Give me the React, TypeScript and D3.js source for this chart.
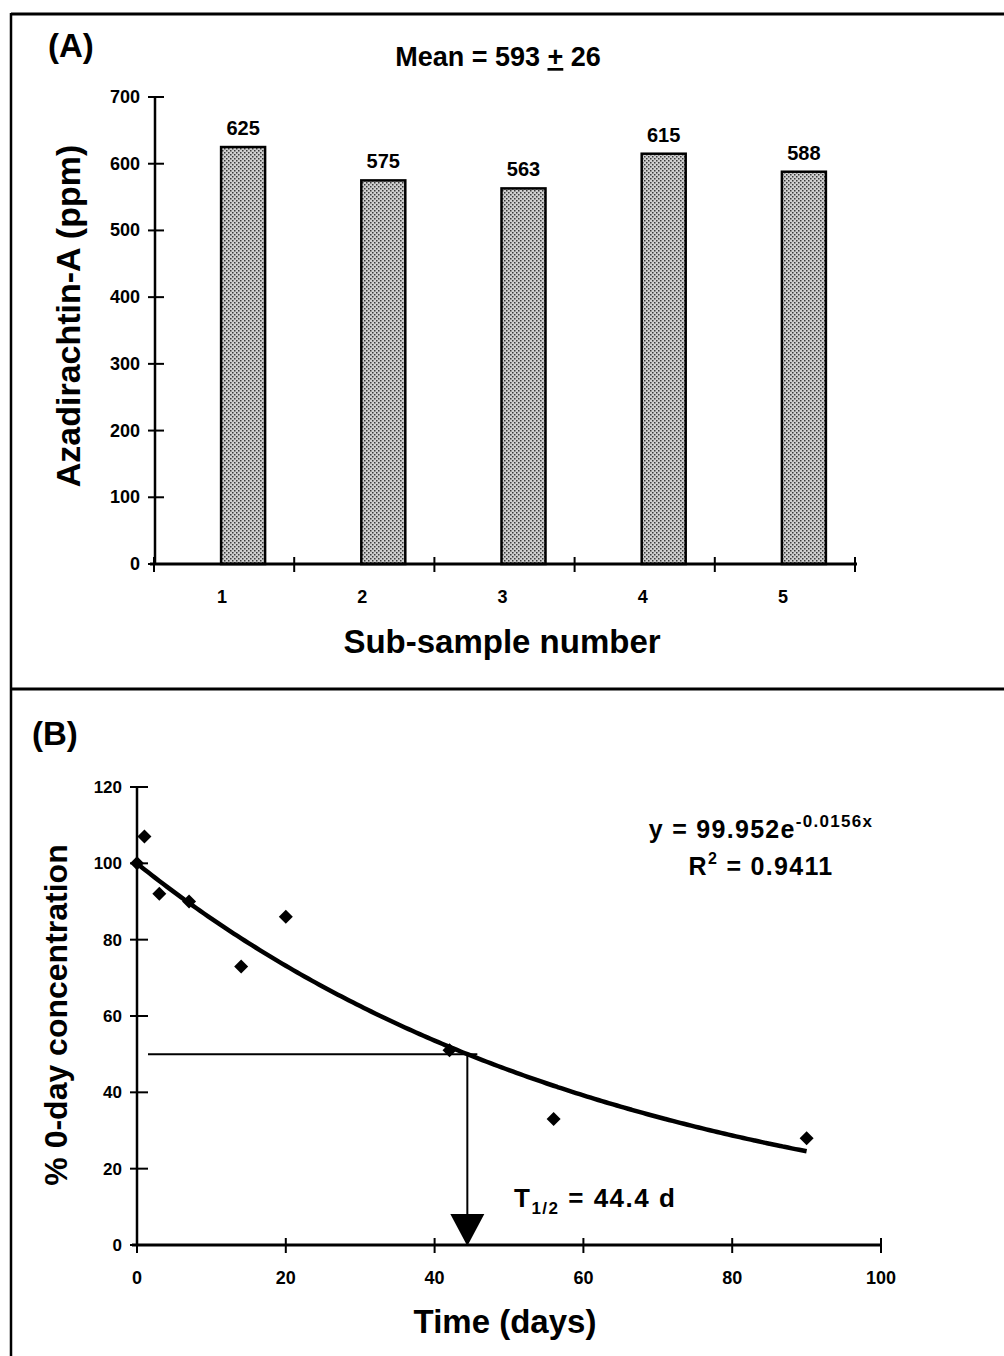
import React from "react";
import * as d3 from "d3";

// ---------- Panel A data ----------
const subSamples = ["1", "2", "3", "4", "5"];
const azaValues = [625, 575, 563, 615, 588];
const yTicksA = [0, 100, 200, 300, 400, 500, 600, 700];

// ---------- Panel B data ----------
const days = [0, 1, 3, 7, 14, 20, 42, 56, 90];
const pctConc = [100, 107, 92, 90, 73, 86, 51, 33, 28];
const yTicksB = [0, 20, 40, 60, 80, 100, 120];
const xTicksB = [0, 20, 40, 60, 80, 100];
const fitA = 99.952;
const fitK = 0.0156;
const halfLife = 44.4;
const fitMaxDay = 90;

const FONT = "Arial, 'Liberation Sans', Helvetica, sans-serif";

export default function App() {
  // Panel A scales
  const xA = d3.scaleBand<string>().domain(subSamples).range([154, 855]).padding(0);
  const yA = d3.scaleLinear().domain([0, 700]).range([564, 97]);
  const bw = xA.bandwidth();
  const barW = 44;
  const bounds = [...subSamples.map((c) => xA(c) as number), 855];

  // Panel B scales
  const xB = d3.scaleLinear().domain([0, 100]).range([137, 881]);
  const yB = d3.scaleLinear().domain([0, 120]).range([1245, 787]);
  const fitPts = d3.range(0, fitMaxDay + 0.5, 0.5).map((d) => [d, fitA * Math.exp(-fitK * d)] as [number, number]);
  const fitLine = d3
    .line<[number, number]>()
    .x((d) => xB(d[0]))
    .y((d) => yB(d[1]))
    .curve(d3.curveMonotoneX);
  const hx = xB(halfLife);
  const hy = yB(50);

  return (
    <svg
      width={1004}
      height={1356}
      style={{ position: "absolute", left: 0, top: 0, background: "#fff" }}
      fontFamily={FONT}
    >
      <defs>
        <pattern id="dots" width="4" height="4" patternUnits="userSpaceOnUse">
          <rect width="4" height="4" fill="#cfcfcf" />
          <rect x="0" y="0" width="1.5" height="1.5" fill="#3a3a3a" />
          <rect x="2" y="2" width="1.5" height="1.5" fill="#3a3a3a" />
        </pattern>
      </defs>

      {/* frame */}
      <line x1={11} y1={14} x2={1004} y2={14} stroke="#000" strokeWidth={3} />
      <line x1={11} y1={13} x2={11} y2={1356} stroke="#000" strokeWidth={2.5} />
      <line x1={11} y1={689} x2={1004} y2={689} stroke="#000" strokeWidth={3} />

      {/* ================= Panel A ================= */}
      <text x={48} y={57} fontSize={33} fontWeight="bold">(A)</text>
      <text x={498} y={66} fontSize={27} fontWeight="bold" textAnchor="middle">
        Mean = 593 <tspan textDecoration="underline">+</tspan> 26
      </text>

      {/* bars */}
      {subSamples.map((c, i) => {
        const cx = (xA(c) as number) + bw / 2;
        return (
          <g key={c}>
            <rect
              x={cx - 3}
              y={yA(azaValues[i])}
              width={barW}
              height={yA(0) - yA(azaValues[i])}
              fill="url(#dots)"
              stroke="#000"
              strokeWidth={2.5}
            />
            <text x={cx - 3 + barW / 2} y={yA(azaValues[i]) - 12} fontSize={20} fontWeight="bold" textAnchor="middle">
              {azaValues[i]}
            </text>
            <text x={cx - 2} y={603} fontSize={18} fontWeight="bold" textAnchor="middle">
              {c}
            </text>
          </g>
        );
      })}

      {/* y axis A */}
      <line x1={155} y1={yA(700)} x2={155} y2={yA(0)} stroke="#000" strokeWidth={2.5} />
      {yTicksA.map((t) => (
        <g key={t}>
          <line x1={148} x2={164} y1={yA(t)} y2={yA(t)} stroke="#000" strokeWidth={2} />
          <text x={140} y={yA(t) + 6} fontSize={18} fontWeight="bold" textAnchor="end">
            {t}
          </text>
        </g>
      ))}
      {/* x axis A */}
      <line x1={150} y1={yA(0)} x2={857} y2={yA(0)} stroke="#000" strokeWidth={3} />
      {bounds.map((b, i) => (
        <line key={i} x1={b} x2={b} y1={557} y2={572} stroke="#000" strokeWidth={2} />
      ))}
      <text x={502} y={653} fontSize={33} fontWeight="bold" textAnchor="middle">
        Sub-sample number
      </text>
      <text
        transform="translate(80,316) rotate(-90)"
        fontSize={34}
        fontWeight="bold"
        textAnchor="middle"
      >
        Azadirachtin-A (ppm)
      </text>

      {/* ================= Panel B ================= */}
      <text x={32} y={745} fontSize={33} fontWeight="bold">(B)</text>

      {/* y axis B */}
      <line x1={137} y1={yB(120)} x2={137} y2={yB(0)} stroke="#000" strokeWidth={2.5} />
      {yTicksB.map((t) => (
        <g key={t}>
          <line x1={130} x2={148} y1={yB(t)} y2={yB(t)} stroke="#000" strokeWidth={2} />
          <text x={122} y={yB(t) + 6} fontSize={17} fontWeight="bold" textAnchor="end">
            {t}
          </text>
        </g>
      ))}
      {/* x axis B */}
      <line x1={132} y1={yB(0)} x2={882} y2={yB(0)} stroke="#000" strokeWidth={3} />
      {xTicksB.map((t) => (
        <g key={t}>
          <line x1={xB(t)} x2={xB(t)} y1={1238} y2={1253} stroke="#000" strokeWidth={2} />
          <text x={xB(t)} y={1284} fontSize={18} fontWeight="bold" textAnchor="middle">
            {t}
          </text>
        </g>
      ))}

      {/* half-life guide */}
      <line x1={148} y1={hy} x2={hx + 10} y2={hy} stroke="#000" strokeWidth={2} />
      <line x1={hx} y1={hy} x2={hx} y2={yB(0) - 30} stroke="#000" strokeWidth={2} />
      <path
        d={`M${hx - 17},${yB(0) - 31} L${hx + 17},${yB(0) - 31} L${hx},${yB(0) + 1} Z`}
        fill="#000"
      />

      {/* fit curve */}
      <path d={fitLine(fitPts) || ""} fill="none" stroke="#000" strokeWidth={4.5} />

      {/* points */}
      {days.map((d, i) => {
        const px = xB(d);
        const py = yB(pctConc[i]);
        const r = 7;
        return <path key={i} d={`M${px},${py - r} L${px + r},${py} L${px},${py + r} L${px - r},${py} Z`} fill="#000" />;
      })}

      {/* equation */}
      <text x={761} y={838} fontSize={25} fontWeight="bold" textAnchor="middle" letterSpacing={1.3}>
        y = 99.952e<tspan fontSize={17} dy={-11}>-0.0156x</tspan>
      </text>
      <text x={761} y={875} fontSize={25} fontWeight="bold" textAnchor="middle" letterSpacing={1.3}>
        R<tspan fontSize={16} dy={-11}>2</tspan>
        <tspan dy={11}> = 0.9411</tspan>
      </text>
      <text x={514} y={1207} fontSize={26} fontWeight="bold" letterSpacing={1.5}>
        T<tspan fontSize={17} dy={7}>1/2</tspan>
        <tspan dy={-7}> = 44.4 d</tspan>
      </text>

      <text x={505} y={1333} fontSize={33} fontWeight="bold" textAnchor="middle">
        Time (days)
      </text>
      <text
        transform="translate(67,1015) rotate(-90)"
        fontSize={32}
        fontWeight="bold"
        textAnchor="middle"
      >
        % 0-day concentration
      </text>
    </svg>
  );
}
